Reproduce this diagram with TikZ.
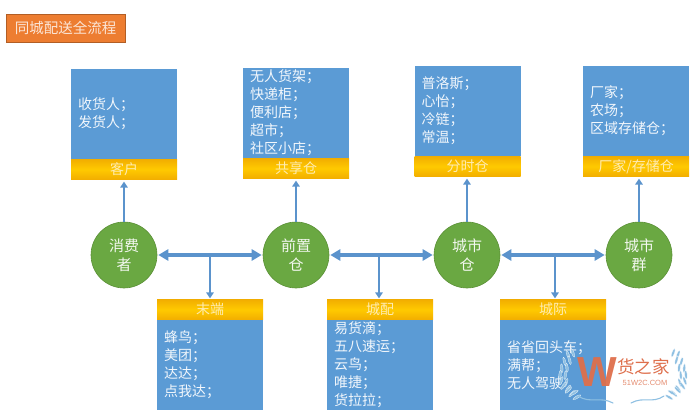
\documentclass[tikz,border=0pt]{standalone}
\usepackage{fontspec}
\setmainfont{Noto Sans CJK SC}
\newfontfamily\latinfont{Liberation Sans}
\usetikzlibrary{arrows.meta,calc}
\definecolor{boxblue}{HTML}{5B9BD5}
\definecolor{arrowblue}{HTML}{5B93CC}
\definecolor{leafgreen}{HTML}{6AA842}
\definecolor{leafedge}{HTML}{5C9138}
\definecolor{amber}{HTML}{FFC000}
\definecolor{amberdeep}{HTML}{F2AE00}
\definecolor{titleorange}{HTML}{ED7D31}
\definecolor{wreath}{HTML}{8FC0E2}
\definecolor{logored}{HTML}{DE6F4C}
\tikzset{
  x=1pt,y=-1pt,
  infobox/.style={draw=none,fill=boxblue,minimum width=106pt,minimum height=90pt,text width=92pt,
    inner xsep=7pt,inner ysep=0pt,align=left,text=white!92!boxblue,
    font=\fontsize{14}{18}\selectfont},
  bandbox/.style={draw=none,top color=amberdeep,bottom color=amberdeep,middle color=amber!85!yellow,
    minimum width=106pt,minimum height=20pt,inner sep=0pt,text=white!70!amber,
    font=\fontsize{14}{16}\selectfont},
  stationnode/.style={circle,draw=leafedge,line width=.6pt,fill=leafgreen,minimum size=66pt,inner sep=0pt,
    align=center,text=white!92!leafgreen,font=\fontsize{15}{19}\selectfont},
  mainlink/.style={draw=arrowblue,line width=3.4pt,{Triangle[length=10pt,width=11pt]}-{Triangle[length=10pt,width=11pt]},shorten <=1pt,shorten >=1pt},
  stemlink/.style={draw=arrowblue,line width=2.2pt,-{Triangle[length=6pt,width=7.5pt]},shorten >=1pt},
  uplink/.style={draw=arrowblue,line width=2.2pt,-{Triangle[length=6pt,width=7.5pt]},shorten >=2pt},
  titlebox/.style={draw=black!25!titleorange,line width=.5pt,fill=titleorange,minimum width=119pt,minimum height=28pt,
    inner sep=0pt,text=white!80!titleorange,font=\fontsize{14.5}{16}\selectfont},
  leaf/.style={fill=wreath,draw=white,line width=.2pt}
}
\begin{document}
\begin{tikzpicture}
\useasboundingbox (0,0) rectangle (700,419);
\node[titlebox] (title) at (65.5,28) {同城配送全流程};

% upper groups
\node[infobox] (b1) at (124,114) {收货人；\\发货人；};
\node[bandbox,anchor=north] (b1l) at (b1.south) {客户};
\node[infobox] (b2) at (296,113) {无人货架；\\快递柜；\\便利店；\\超市；\\社区小店；};
\node[bandbox,anchor=north] (b2l) at (b2.south) {共享仓};
\node[infobox] (b3) at (467.5,111) {普洛斯；\\心怡；\\冷链；\\常温；};
\node[bandbox,anchor=north] (b3l) at (b3.south) {分时仓};
\node[infobox] (b4) at (636,111) {厂家；\\农场；\\区域存储仓；};
\node[bandbox,anchor=north] (b4l) at (b4.south) {厂家/存储仓};

% stations
\node[stationnode] (c1) at (124,255) {消费\\者};
\node[stationnode] (c2) at (296,255) {前置\\仓};
\node[stationnode] (c3) at (467,255) {城市\\仓};
\node[stationnode] (c4) at (639,255) {城市\\群};

% lower groups
\node[infobox] (d1) at (210,365) {蜂鸟；\\美团；\\达达；\\点我达；};
\node[bandbox,anchor=south] (d1l) at (d1.north) {末端};
\node[infobox] (d2) at (380,365) {易货滴；\\五八速运；\\云鸟；\\唯捷；\\货拉拉；};
\node[bandbox,anchor=south] (d2l) at (d2.north) {城配};
\node[infobox] (d3) at (553,365) {省省回头车；\\满帮；\\无人驾驶};
\node[bandbox,anchor=south] (d3l) at (d3.north) {城际};

% connectors
\draw[uplink] (c1) -- (c1 |- b1l.south);
\draw[uplink] (c2) -- (c2 |- b2l.south);
\draw[uplink] (c3) -- (c3 |- b3l.south);
\draw[uplink] (c4) -- (c4 |- b4l.south);
\draw[mainlink] (c1) -- (c2);
\draw[mainlink] (c2) -- (c3);
\draw[mainlink] (c3) -- (c4);
\coordinate (j1) at (210,255);
\coordinate (j2) at (379,255);
\coordinate (j3) at (555,255);
\draw[stemlink] (j1) -- (j1 |- d1l.north);
\draw[stemlink] (j2) -- (j2 |- d2l.north);
\draw[stemlink] (j3) -- (j3 |- d3l.north);

% watermark
\foreach \x/\y/\a in {569/350/110,566/357/105,564/364/95,563/371/85,565/378/70,568/384/55,573/389/45,579/393/30}{
  \fill[leaf,rotate around={\a:(\x,\y)}] (\x-4,\y-2.6) ellipse [x radius=4.5,y radius=1.3];
  \fill[leaf,rotate around={\a:(\x,\y)}] (\x-4,\y+2.6) ellipse [x radius=4.5,y radius=1.3];
}
\foreach \x/\y/\a in {677/350/70,680/357/75,682/364/85,683/371/95,681/378/110,678/384/125,673/389/135,667/393/150}{
  \fill[leaf,rotate around={\a:(\x,\y)}] (\x-4,\y-2.6) ellipse [x radius=4.5,y radius=1.3];
  \fill[leaf,rotate around={\a:(\x,\y)}] (\x-4,\y+2.6) ellipse [x radius=4.5,y radius=1.3];
}
\draw[wreath,line width=1.1pt,line cap=round] (578,396) .. controls (590,404) and (600,396) .. (613,403);
\draw[wreath,line width=1.1pt,line cap=round] (664,396) .. controls (652,404) and (644,396) .. (631,403);
\node[inner sep=0pt,text=logored,opacity=.95,font=\latinfont\bfseries\fontsize{42}{42}\selectfont] (wm) at (597,372) {W};
\node[inner sep=0pt,text=logored,font=\fontsize{17.5}{18}\selectfont] (wt) at (643.5,367) {货之家};
\node[inner sep=0pt,text=logored!80!white,font=\latinfont\fontsize{7.5}{8}\selectfont] (wu) at (645,382.5) {51W2C.COM};
\end{tikzpicture}
\end{document}
